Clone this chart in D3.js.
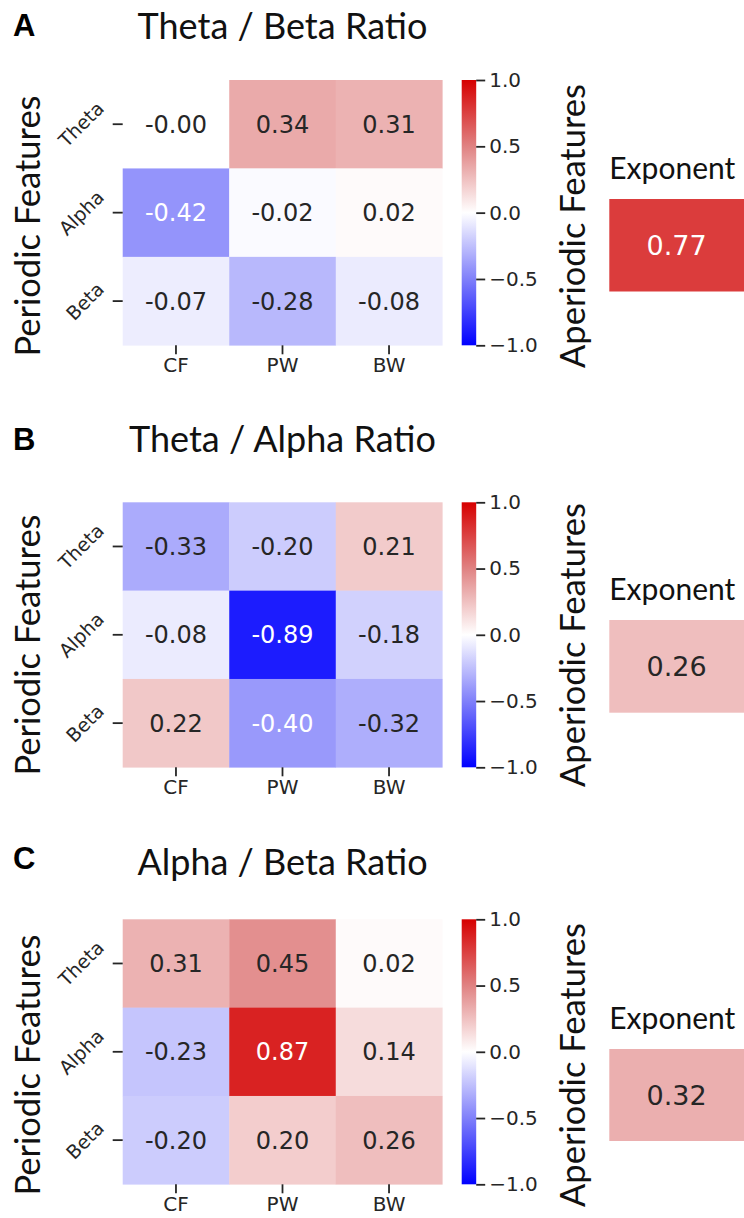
<!DOCTYPE html>
<html><head><meta charset="utf-8">
<script src="https://cdn.jsdelivr.net/npm/d3@7/dist/d3.min.js"></script>
<style>
html,body{margin:0;padding:0;background:#fff;}
svg{display:block;}
</style></head>
<body>
<svg id="fig" width="744" height="1218"></svg>
<script>
// ---------- data ----------
const rowLabels = ["Theta", "Alpha", "Beta"];
const colLabels = ["CF", "PW", "BW"];
const panelLetters = ["A", "B", "C"];
const panelTitles = ["Theta / Beta Ratio", "Theta / Alpha Ratio", "Alpha / Beta Ratio"];
const valuesA = [[-0.00, 0.34, 0.31], [-0.42, -0.02, 0.02], [-0.07, -0.28, -0.08]];
const valuesB = [[-0.33, -0.20, 0.21], [-0.08, -0.89, -0.18], [0.22, -0.40, -0.32]];
const valuesC = [[0.31, 0.45, 0.02], [-0.23, 0.87, 0.14], [-0.20, 0.20, 0.26]];
const exponentValues = [0.77, 0.26, 0.32];
const colorbarTicks = [-1.0, -0.5, 0.0, 0.5, 1.0];
const exponentLabel = "Exponent";
const periodicLabel = "Periodic Features";
const aperiodicLabel = "Aperiodic Features";

// ---------- layout (styles) ----------
const panels = [
  {vals: valuesA, top: 80.0, bottom: 345.3, titleY: 39, letterY: 36, expY: 179, boxTop: 199, boxBottom: 291.5, labelC: 226},
  {vals: valuesB, top: 502.3, bottom: 767.3, titleY: 452, letterY: 450, expY: 600, boxTop: 620, boxBottom: 712.7, labelC: 645},
  {vals: valuesC, top: 919.3, bottom: 1184.3, titleY: 875, letterY: 869, expY: 1029, boxTop: 1049, boxBottom: 1141, labelC: 1065}
];
const hmLeft = 122.7, hmRight = 442.3;
const cbLeft = 461.7, cbRight = 476.2;
const boxLeft = 609.3, boxRight = 746;
const dark = "#262626";
const geo = "Lato, 'Noto Sans', sans-serif";
const mpl = "'DejaVu Sans', sans-serif";
const tickFs = 20, yTickFs = 19;

// displayed colormap (bwr as it appears in the figure)
const color = d3.scaleLinear()
  .domain([-1, -0.5, 0, 0.5, 1])
  .range(["rgb(0,0,255)", "rgb(128,128,250)", "rgb(255,255,255)", "rgb(224,130,130)", "rgb(214,0,0)"])
  .interpolate(d3.interpolateRgb);

// nominal bwr for text-colour decision (seaborn rule)
function bwr(v) {
  const t = (v + 1) / 2;
  if (t < 0.5) { const k = t * 2; return [k, k, 1]; }
  const k = 1 - (t - 0.5) * 2; return [1, k, k];
}
function lum(rgb) {
  const lin = c => c <= 0.03928 ? c / 12.92 : Math.pow((c + 0.055) / 1.055, 2.4);
  return 0.2126 * lin(rgb[0]) + 0.7152 * lin(rgb[1]) + 0.0722 * lin(rgb[2]);
}
const textColor = v => lum(bwr(v)) > 0.408 ? dark : "#ffffff";
const fmtCell = v => ((v < 0 || Object.is(v, -0)) ? "-" : "") + Math.abs(v).toFixed(2);

const svg = d3.select("#fig");
const defs = svg.append("defs");
const grad = defs.append("linearGradient").attr("id", "cbgrad")
  .attr("x1", 0).attr("y1", 1).attr("x2", 0).attr("y2", 0);
d3.range(0, 1.0001, 0.05).forEach(t => {
  grad.append("stop").attr("offset", t).attr("stop-color", color(-1 + 2 * t));
});

const xHm = d3.scaleBand().domain(colLabels).range([hmLeft, hmRight]).padding(0);

panels.forEach((p, pi) => {
  const g = svg.append("g");
  const y = d3.scaleBand().domain(rowLabels).range([p.top, p.bottom]).padding(0);

  // panel letter
  g.append("text").attr("x", 13).attr("y", p.letterY)
    .attr("font-family", "'Liberation Sans', Arial, sans-serif").attr("font-weight", "bold")
    .attr("font-size", 31).attr("fill", "#000").text(panelLetters[pi]);

  // title
  g.append("text").attr("x", (hmLeft + hmRight) / 2).attr("y", p.titleY)
    .attr("text-anchor", "middle").attr("font-family", geo).attr("font-size", 36)
    .attr("fill", "#111").text(panelTitles[pi]);

  // cells
  const cells = [];
  p.vals.forEach((row, ri) => row.forEach((v, ci) => cells.push({r: rowLabels[ri], c: colLabels[ci], v})));
  g.selectAll("rect.cell").data(cells).join("rect").attr("class", "cell")
    .attr("x", d => xHm(d.c)).attr("y", d => y(d.r))
    .attr("width", xHm.bandwidth() + 0.3).attr("height", y.bandwidth() + 0.3)
    .attr("fill", d => color(d.v));
  g.selectAll("text.cell").data(cells).join("text").attr("class", "cell")
    .attr("x", d => xHm(d.c) + xHm.bandwidth() / 2)
    .attr("y", d => y(d.r) + y.bandwidth() / 2)
    .attr("dy", "0.36em").attr("text-anchor", "middle")
    .attr("font-family", mpl).attr("font-size", 24)
    .attr("fill", d => textColor(d.v)).text(d => fmtCell(d.v));

  // x axis
  const xa = g.append("g").attr("transform", `translate(0,${p.bottom})`)
    .call(d3.axisBottom(xHm).tickSize(9).tickPadding(4));
  xa.select(".domain").remove();
  xa.selectAll("line").attr("stroke", dark).attr("stroke-width", 1.8);
  xa.selectAll("text").attr("font-family", mpl).attr("font-size", tickFs).attr("fill", dark);

  // y axis (ticks) with rotated labels
  const ya = g.append("g").attr("transform", `translate(${hmLeft},0)`)
    .call(d3.axisLeft(y).tickSize(10).tickFormat(""));
  ya.select(".domain").remove();
  ya.selectAll("line").attr("stroke", dark).attr("stroke-width", 1.8);
  rowLabels.forEach(r => {
    const cy = y(r) + y.bandwidth() / 2;
    const t = g.append("text").attr("font-family", mpl).attr("font-size", yTickFs)
      .attr("fill", dark).attr("text-anchor", "middle").attr("dy", "0.36em").text(r);
    const L = t.node().getComputedTextLength();
    const w = (L + yTickFs * 0.95) * Math.SQRT1_2;
    const cx = hmLeft - 10 - 6 - w / 2;
    t.attr("x", cx).attr("y", cy).attr("transform", `rotate(-45,${cx},${cy})`);
  });

  // colorbar
  const yc = d3.scaleLinear().domain([-1, 1]).range([p.bottom, p.top]);
  g.append("rect").attr("x", cbLeft).attr("y", p.top)
    .attr("width", cbRight - cbLeft).attr("height", p.bottom - p.top)
    .attr("fill", "url(#cbgrad)");
  const ca = g.append("g").attr("transform", `translate(${cbRight},0)`)
    .call(d3.axisRight(yc).tickValues(colorbarTicks).tickFormat(d3.format(".1f")).tickSize(9).tickPadding(4));
  ca.select(".domain").remove();
  ca.selectAll("line").attr("stroke", dark).attr("stroke-width", 1.8);
  ca.selectAll("text").attr("font-family", mpl).attr("font-size", tickFs).attr("fill", dark);

  // axis labels
  g.append("text").attr("transform", `translate(40,${p.labelC}) rotate(-90)`)
    .attr("text-anchor", "middle").attr("font-family", geo).attr("font-size", 34.5)
    .attr("fill", "#111").text(periodicLabel);
  g.append("text").attr("transform", `translate(585,${p.labelC}) rotate(-90)`)
    .attr("text-anchor", "middle").attr("font-family", geo).attr("font-size", 34.5)
    .attr("fill", "#111").text(aperiodicLabel);

  // exponent
  g.append("text").attr("x", boxLeft).attr("y", p.expY)
    .attr("font-family", geo).attr("font-size", 30).attr("fill", "#111").text(exponentLabel);
  const ev = exponentValues[pi];
  g.append("rect").attr("x", boxLeft).attr("y", p.boxTop)
    .attr("width", boxRight - boxLeft).attr("height", p.boxBottom - p.boxTop)
    .attr("fill", color(ev));
  g.append("text").attr("x", (boxLeft + 744) / 2).attr("y", (p.boxTop + p.boxBottom) / 2)
    .attr("dy", "0.36em").attr("text-anchor", "middle")
    .attr("font-family", mpl).attr("font-size", 27)
    .attr("fill", textColor(ev)).text(fmtCell(ev));
});
</script>
</body></html>
